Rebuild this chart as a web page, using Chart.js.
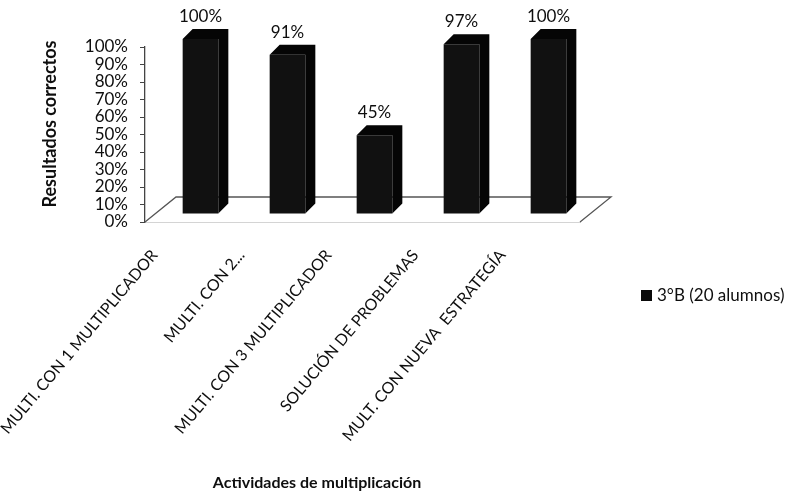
<!DOCTYPE html>
<html>
<head>
<meta charset="utf-8">
<script src="https://cdn.jsdelivr.net/npm/chart.js@4"></script>
<style>
    html, body { margin: 0; padding: 0; background: #fff; }
    #wrap { width: 799px; height: 496px; }
</style>
</head>
<body>
<div id="wrap"><canvas id="myChart"></canvas></div>
<script>
// actividades y porcentaje de resultados correctos
let actividades = [
    "MULTI. CON 1 MULTIPLICADOR",
    "MULTI. CON 2...",
    "MULTI. CON 3 MULTIPLICADOR",
    "SOLUCIÓN DE PROBLEMAS",
    "MULT. CON NUEVA  ESTRATEGÍA"
]
let correctos = [1.00, 0.91, 0.45, 0.97, 1.00]
let etiquetas = ["100%", "91%", "45%", "97%", "100%"]
let grupo = "3°B (20 alumnos)"

const FONT = "Lato, 'Open Sans', sans-serif"
const TEXT = "#0e0e0e"
const DEPTH_X = 10, DEPTH_Y = 10     // profundidad de cada barra
const SHIFT_X = 12, SHIFT_Y = -8     // barras a media profundidad del piso
const FLOOR_X = 31, FLOOR_Y = -25

// piso en perspectiva
const floorPlugin = {
    id: 'floor',
    beforeDatasetsDraw(chart) {
        const { ctx, chartArea: a } = chart
        ctx.save()
        ctx.beginPath()
        ctx.moveTo(a.left, a.bottom)
        ctx.lineTo(a.left + FLOOR_X, a.bottom + FLOOR_Y)
        ctx.lineTo(a.right + FLOOR_X, a.bottom + FLOOR_Y)
        ctx.lineTo(a.right, a.bottom)
        ctx.fillStyle = "#fff"
        ctx.fill()
        ctx.strokeStyle = "#555"
        ctx.lineWidth = 1.3
        ctx.stroke()
        ctx.restore()
    }
}

// caras laterales, tapas y porcentajes
const boxPlugin = {
    id: 'box3d',
    beforeDatasetDraw(chart) {
        chart.ctx.save()
        chart.ctx.translate(SHIFT_X, SHIFT_Y)
    },
    afterDatasetDraw(chart, args) {
        const ctx = chart.ctx
        const meta = chart.getDatasetMeta(args.index)
        meta.data.forEach((bar, i) => {
            const L = bar.x - bar.width / 2, R = bar.x + bar.width / 2
            const T = bar.y, B = bar.base
            ctx.fillStyle = "#050505"
            ctx.beginPath()
            ctx.moveTo(L, T)
            ctx.lineTo(L + DEPTH_X, T - DEPTH_Y)
            ctx.lineTo(R + DEPTH_X, T - DEPTH_Y)
            ctx.lineTo(R + DEPTH_X, B - DEPTH_Y)
            ctx.lineTo(R, B)
            ctx.lineTo(R, T)
            ctx.closePath()
            ctx.fill()

            ctx.fillStyle = TEXT
            ctx.font = "17px " + FONT
            ctx.textAlign = "center"
            ctx.textBaseline = "alphabetic"
            ctx.fillText(etiquetas[i], bar.x, T - DEPTH_Y - 7)
        })
        ctx.restore()
    },
    afterDraw(chart) {
        const ctx = chart.ctx
        ctx.save()
        // leyenda
        ctx.fillStyle = "#0a0a0a"
        ctx.fillRect(641, 290, 11, 11)
        ctx.fillStyle = TEXT
        ctx.font = "17px " + FONT
        ctx.textAlign = "left"
        ctx.textBaseline = "middle"
        ctx.fillText(grupo, 657, 296)
        // titulos de los ejes
        ctx.font = "bold 16px " + FONT
        ctx.textAlign = "center"
        ctx.fillText("Actividades de multiplicación", 317, 483)
        ctx.translate(50, 124)
        ctx.rotate(-Math.PI / 2)
        ctx.font = "bold 18px " + FONT
        ctx.fillText("Resultados correctos", 0, 0)
        ctx.restore()
    }
}

const ctx = document.getElementById('myChart')

new Chart(ctx, {
    type: 'bar',
    data: {
        labels: actividades,
        datasets: [{
            label: grupo,
            data: correctos,
            backgroundColor: '#111',
            borderWidth: 0,
            categoryPercentage: 1,
            barPercentage: 0.41,
            clip: false
        }]
    },
    options: {
        responsive: true,
        maintainAspectRatio: false,
        animation: false,
        layout: { padding: { top: 47, right: 219, left: 38, bottom: 0 } },
        plugins: {
            legend: { display: false },
            tooltip: { enabled: false }
        },
        scales: {
            x: {
                afterFit: (scale) => { scale.height = 274 },
                grid: { display: false },
                border: { display: true, color: '#555', width: 1.3 },
                ticks: {
                    autoSkip: false,
                    minRotation: 50,
                    maxRotation: 50,
                    padding: 16,
                    labelOffset: -34,
                    color: TEXT,
                    font: { family: FONT, size: 16 }
                }
            },
            y: {
                min: 0,
                max: 1,
                afterFit: (scale) => { scale.width = 107 },
                grid: { drawOnChartArea: false, drawTicks: true, tickLength: 5, color: '#444' },
                border: { display: true, color: '#444', width: 1.3 },
                ticks: {
                    stepSize: 0.1,
                    autoSkip: false,
                    padding: 12,
                    color: TEXT,
                    font: { family: FONT, size: 17 },
                    callback: (v) => Math.round(v * 100) + "%"
                }
            }
        }
    },
    plugins: [floorPlugin, boxPlugin]
})
</script>
</body>
</html>
